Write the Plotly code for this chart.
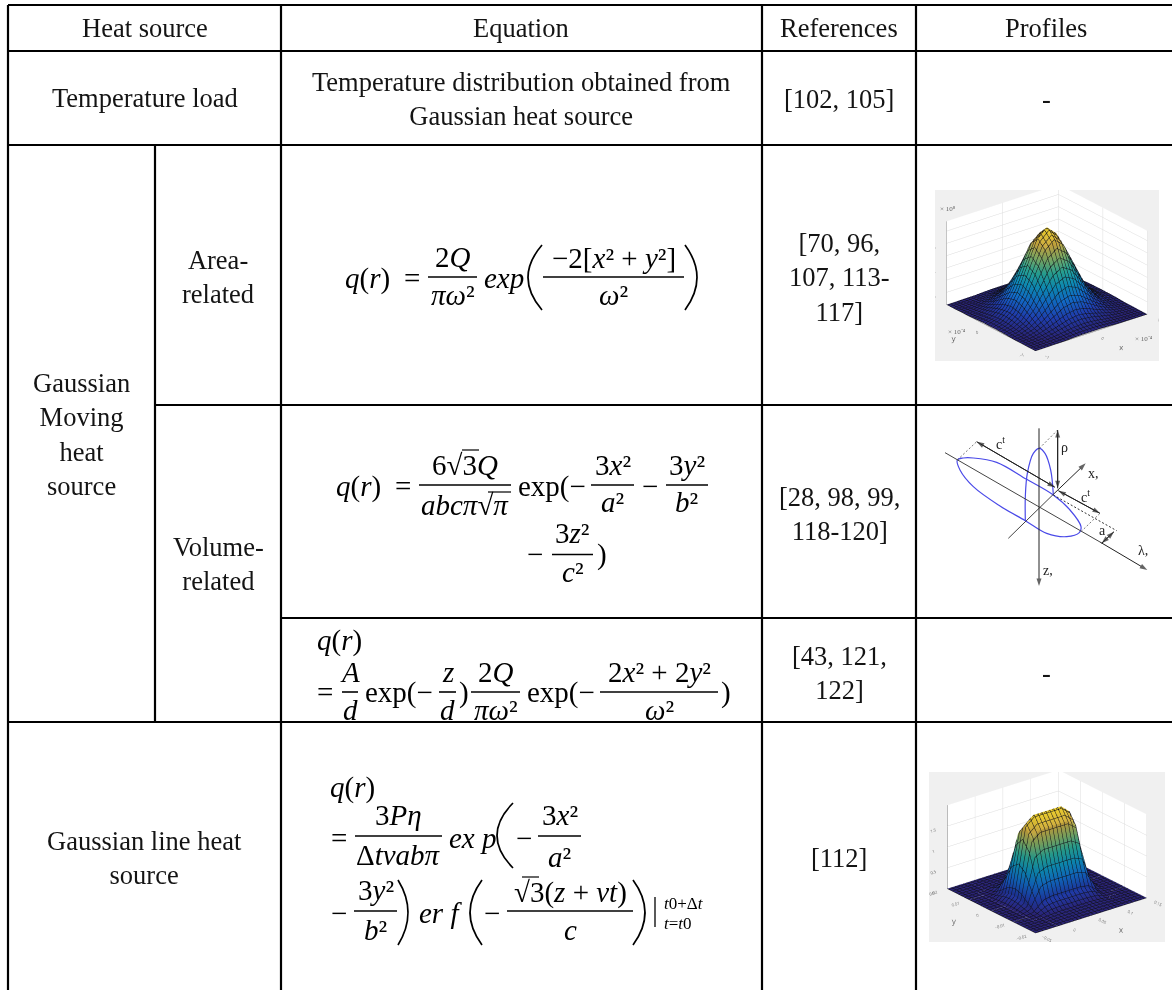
import plotly.graph_objects as go

W, H = 1172, 990
BODY = "Liberation Serif"
MATH = "Liberation Serif"

# table grid
col_lines = [8, 155, 281, 762, 916]
row_lines = [5, 51, 145, 405, 618, 722]

headers = ["Heat source", "Equation", "References", "Profiles"]
refs = ["[102, 105]", "[70, 96,<br>107, 113-<br>117]", "[28, 98, 99,<br>118-120]", "[43, 121,<br>122]", "[112]"]

# area related profile
area_x = [-1, -0.833, -0.667, -0.5, -0.333, -0.167, 0, 0.167, 0.333, 0.5, 0.667, 0.833, 1]
area_y = [-1, -0.833, -0.667, -0.5, -0.333, -0.167, 0, 0.167, 0.333, 0.5, 0.667, 0.833, 1]
area_z = [
    [0.00, 0.00, 0.01, 0.01, 0.03, 0.04, 0.04, 0.04, 0.03, 0.01, 0.01, 0.00, 0.00],
    [0.00, 0.01, 0.02, 0.05, 0.10, 0.15, 0.17, 0.15, 0.10, 0.05, 0.02, 0.01, 0.00],
    [0.01, 0.02, 0.07, 0.17, 0.30, 0.43, 0.49, 0.43, 0.30, 0.17, 0.07, 0.02, 0.01],
    [0.01, 0.05, 0.17, 0.39, 0.70, 1.01, 1.14, 1.01, 0.70, 0.39, 0.17, 0.05, 0.01],
    [0.03, 0.10, 0.30, 0.70, 1.28, 1.84, 2.08, 1.84, 1.28, 0.70, 0.30, 0.10, 0.03],
    [0.04, 0.15, 0.43, 1.01, 1.84, 2.65, 2.98, 2.65, 1.84, 1.01, 0.43, 0.15, 0.04],
    [0.04, 0.17, 0.49, 1.14, 2.08, 2.98, 3.35, 2.98, 2.08, 1.14, 0.49, 0.17, 0.04],
    [0.04, 0.15, 0.43, 1.01, 1.84, 2.65, 2.98, 2.65, 1.84, 1.01, 0.43, 0.15, 0.04],
    [0.03, 0.10, 0.30, 0.70, 1.28, 1.84, 2.08, 1.84, 1.28, 0.70, 0.30, 0.10, 0.03],
    [0.01, 0.05, 0.17, 0.39, 0.70, 1.01, 1.14, 1.01, 0.70, 0.39, 0.17, 0.05, 0.01],
    [0.01, 0.02, 0.07, 0.17, 0.30, 0.43, 0.49, 0.43, 0.30, 0.17, 0.07, 0.02, 0.01],
    [0.00, 0.01, 0.02, 0.05, 0.10, 0.15, 0.17, 0.15, 0.10, 0.05, 0.02, 0.01, 0.00],
    [0.00, 0.00, 0.01, 0.01, 0.03, 0.04, 0.04, 0.04, 0.03, 0.01, 0.01, 0.00, 0.00],
]

# line source profile
line_x = [-0.05, -0.025, -0.01, 0, 0.01, 0.025, 0.05, 0.075, 0.09, 0.1, 0.11, 0.125, 0.15]
line_y = [-0.02, -0.0125, -0.009, -0.006, -0.003, 0, 0.003, 0.006, 0.009, 0.0125, 0.02]
line_z = [
    [0, 0, 0.00, 0.00, 0.00, 0.00, 0.00, 0.00, 0.00, 0.00, 0.00, 0, 0],
    [0, 0, 0.00, 0.02, 0.03, 0.04, 0.04, 0.04, 0.03, 0.02, 0.00, 0, 0],
    [0, 0, 0.02, 0.12, 0.21, 0.24, 0.24, 0.24, 0.21, 0.12, 0.02, 0, 0],
    [0, 0, 0.09, 0.45, 0.81, 0.90, 0.90, 0.90, 0.81, 0.45, 0.09, 0, 0],
    [0, 0, 0.17, 0.85, 1.53, 1.70, 1.70, 1.70, 1.53, 0.85, 0.17, 0, 0],
    [0, 0, 0.20, 1.00, 1.80, 1.98, 1.98, 1.98, 1.80, 1.00, 0.20, 0, 0],
    [0, 0, 0.17, 0.85, 1.53, 1.70, 1.70, 1.70, 1.53, 0.85, 0.17, 0, 0],
    [0, 0, 0.09, 0.45, 0.81, 0.90, 0.90, 0.90, 0.81, 0.45, 0.09, 0, 0],
    [0, 0, 0.02, 0.12, 0.21, 0.24, 0.24, 0.24, 0.21, 0.12, 0.02, 0, 0],
    [0, 0, 0.00, 0.02, 0.03, 0.04, 0.04, 0.04, 0.03, 0.02, 0.00, 0, 0],
    [0, 0, 0.00, 0.00, 0.00, 0.00, 0.00, 0.00, 0.00, 0.00, 0.00, 0, 0],
]

parula = [[0, "#2a2375"], [0.13, "#1f3fb0"], [0.28, "#1270d0"], [0.42, "#0e97c4"], [0.56, "#2ab0a0"],
          [0.7, "#85b66c"], [0.84, "#d2b044"], [1, "#f5d62a"]]

# double ellipsoid sketch, in sketch units
flat_x = [112, 130, 160, 230, 320, 400, 450, 483, 478, 440, 380, 316, 240, 160, 120, 112]
flat_y = [180, 174, 174, 187, 238, 285, 330, 380, 398, 410, 400, 362, 318, 260, 210, 180]
upright_x = [316, 316, 322, 340, 358, 375, 392, 400]
upright_y = [362, 290, 220, 160, 145, 160, 210, 285]
thin_lines = [((75, 158), (540, 426)), ((265, 415), (400, 283))]
dashed_lines = [((112, 180), (170, 125)), ((358, 145), (413, 90)), ((483, 395), (540, 340))]
dotted_x = [400, 590]
dotted_y = [285, 392]
single_arrows = [((357, 85), (357, 558)), ((400, 283), (497, 190)), ((540, 426), (682, 510))]
double_arrows = [((170, 125), (405, 262)), ((413, 90), (413, 265)), ((415, 272), (540, 340)), ((545, 430), (582, 395))]
sketch_labels = [(240, 130, "c<sup>t</sup>"), (434, 142, "ρ"), (520, 220, "x,"), (497, 288, "c<sup>t</sup>"),
                 (548, 392, "a"), (668, 450, "λ,"), (385, 512, "z,")]

shapes = []
notes = []


def rule(x0, y0, x1, y1, width=2.2, color="#000"):
    shapes.append(dict(type="line", xref="x", yref="y", x0=x0, y0=y0, x1=x1, y1=y1,
                       line=dict(color=color, width=width)))


def label(x, y, text, size=26.5, anchor="center", font=BODY, color="#141414"):
    notes.append(dict(x=x, y=y, xref="x", yref="y", text=text, showarrow=False, xanchor=anchor,
                      yanchor="middle", align="center", font=dict(family=font, size=size, color=color)))


def m(x, y, text, anchor="left", size=29):
    label(x, y, text, size=size, anchor=anchor, font=MATH, color="#000")


def frac(x0, x1, y, num, den, ynum, yden):
    rule(x0, y, x1, y, width=1.6)
    cx = (x0 + x1) / 2
    m(cx, ynum, num, "center")
    m(cx, yden, den, "center")


def paren(x0, x1, y0, y1, right=False):
    # tall bracket as a curve, x0 is the tip side for a left one
    tip, bulge = (x0, x1) if right else (x1, x0)
    ym = (y0 + y1) / 2
    ctrl = 2 * bulge - tip
    shapes.append(dict(type="path", xref="x", yref="y", line=dict(color="#000", width=1.7),
                       path=f"M {tip} {y0} Q {ctrl} {ym} {tip} {y1}"))


# table lines
rule(col_lines[0], row_lines[0], W, row_lines[0])
rule(col_lines[0], row_lines[1], W, row_lines[1])
rule(col_lines[0], row_lines[2], W, row_lines[2])
rule(col_lines[1], row_lines[3], W, row_lines[3])
rule(col_lines[2], row_lines[4], W, row_lines[4])
rule(col_lines[0], row_lines[5], W, row_lines[5])
rule(col_lines[0], row_lines[0], col_lines[0], H)
rule(col_lines[1], row_lines[2], col_lines[1], row_lines[5])
rule(col_lines[2], row_lines[0], col_lines[2], H)
rule(col_lines[3], row_lines[0], col_lines[3], H)
rule(col_lines[4], row_lines[0], col_lines[4], H)

# plain cells
label(144.5, 28, headers[0])
label(521, 28, headers[1])
label(839, 28, headers[2])
label(1046, 28, headers[3])
label(144.5, 98, "Temperature load")
label(521, 99, "Temperature distribution obtained from<br>Gaussian heat source")
label(218, 277, "Area-<br>related")
label(81, 434, "Gaussian<br>Moving<br>heat<br>source")
label(218, 564, "Volume-<br>related")
label(144.5, 858, "Gaussian line heat<br>source")
label(839, 99, refs[0])
label(839, 277, refs[1])
label(839, 514, refs[2])
label(839, 673, refs[3])
label(839, 858, refs[4])
label(1046, 99, "-")
label(1046, 673, "-")

# area related equation
m(343, 278, "<i>q</i>(<i>r</i>)")
m(402, 278, "=")
frac(428, 477, 277, "2<i>Q</i>", "<i>πω</i>²", 257, 295)
m(482, 278, "<i>exp</i>")
paren(528, 542, 245, 310)
frac(543, 684, 277, "−2[<i>x</i>² + <i>y</i>²]", "<i>ω</i>²", 258, 295)
paren(685, 697, 245, 310, right=True)

# volume related equation
m(334, 486, "<i>q</i>(<i>r</i>)")
m(393, 486, "=")
frac(419, 511, 485, "6√3<i>Q</i>", "<i>abcπ</i>√<i>π</i>", 465, 505)
rule(462, 450, 479, 450, width=1.2)
rule(488, 492, 511, 492, width=1.2)
m(516, 486, "exp(−")
frac(591, 634, 485, "3<i>x</i>²", "<i>a</i>²", 465, 502)
m(650, 486, "−", "center")
frac(666, 708, 485, "3<i>y</i>²", "<i>b</i>²", 465, 502)
m(535, 554, "−", "center")
frac(552, 593, 554.5, "3<i>z</i>²", "<i>c</i>²", 533, 572)
m(595, 554, ")")

# surface flux equation
m(315, 640, "<i>q</i>(<i>r</i>)")
m(315, 692, "=")
frac(342, 358, 692, "<i>A</i>", "<i>d</i>", 672, 710)
m(363, 692, "exp(−")
frac(439, 456, 692, "<i>z</i>", "<i>d</i>", 672, 710)
m(457, 692, ")")
frac(471, 520, 692, "2<i>Q</i>", "<i>πω</i>²", 672, 710)
m(525, 692, "exp(−")
frac(600, 718, 692, "2<i>x</i>² + 2<i>y</i>²", "<i>ω</i>²", 672, 710)
m(719, 692, ")")

# line source equation
m(328, 787, "<i>q</i>(<i>r</i>)")
m(329, 838, "=")
frac(355, 442, 836, "3<i>Pη</i>", "Δ<i>tvabπ</i>", 815, 855)
m(447, 838, "<i>ex p</i>")
paren(497, 513, 803, 868)
m(524, 838, "−", "center")
frac(538, 581, 836, "3<i>x</i>²", "<i>a</i>²", 815, 857)
m(329, 913, "−")
frac(354, 397, 911, "3<i>y</i>²", "<i>b</i>²", 890, 930)
paren(398, 408, 880, 945, right=True)
m(417, 913, "<i>er f</i>")
paren(470, 482, 880, 945)
m(492, 913, "−", "center")
frac(507, 633, 911, "√3(<i>z</i> + <i>vt</i>)", "<i>c</i>", 892, 930)
rule(522, 877, 539, 877, width=1.2)
paren(633, 645, 880, 945, right=True)
rule(655, 897, 655, 927, width=1.3)
m(662, 903, "<i>t</i>0+Δ<i>t</i>", size=17)
m(662, 923, "<i>t</i>=<i>t</i>0", size=17)

# exponent tags next to the matlab boxes
label(938, 209, "× 10⁸", size=7, anchor="left", color="#666")
label(946, 332, "× 10⁻⁴", size=7, anchor="left", color="#666")
label(1133, 339, "× 10⁻⁴", size=7, anchor="left", color="#666")

fig = go.Figure()


def surface_trace(x, y, z, scene, step_x, step_y, zmax):
    start_x, end_x = x[0], x[-1]
    start_y, end_y = y[0], y[-1]
    return go.Surface(x=x, y=y, z=z, scene=scene, colorscale=parula, cmin=0, cmax=zmax, showscale=False,
                      hoverinfo="skip", lighting=dict(ambient=0.85, diffuse=0.3, specular=0.05),
                      contours=dict(
                          x=dict(show=True, start=start_x, end=end_x, size=step_x, color="#101018", width=1),
                          y=dict(show=True, start=start_y, end=end_y, size=step_y, color="#101018", width=1)))


fig.add_trace(surface_trace(area_x, area_y, area_z, "scene", 0.06, 0.06, 3.35))
fig.add_trace(surface_trace(line_x, line_y, line_z, "scene2", 0.007, 0.0014, 2))


def sketch_line(xs, ys, **line):
    fig.add_trace(go.Scatter(x=xs, y=ys, xaxis="x2", yaxis="y2", mode="lines", hoverinfo="skip", line=line))


def sketch_arrow(a, b):
    # shaft with a head at the far point only
    fig.add_trace(go.Scatter(x=[a[0], b[0]], y=[a[1], b[1]], xaxis="x2", yaxis="y2", mode="lines+markers",
                             hoverinfo="skip", line=dict(color="#222", width=1),
                             marker=dict(symbol="arrow", size=[0, 8], angleref="previous", color="#222",
                                         line=dict(width=0))))


# the blue sketch
sketch_line(flat_x, flat_y, color="#4a4ae8", width=1.2, shape="spline")
sketch_line(upright_x, upright_y, color="#4a4ae8", width=1.2, shape="spline")
for (a, b) in thin_lines:
    sketch_line([a[0], b[0]], [a[1], b[1]], color="#444", width=1)
for (a, b) in dashed_lines:
    sketch_line([a[0], b[0]], [a[1], b[1]], color="#555", width=0.8, dash="2px,2px")
sketch_line(dotted_x, dotted_y, color="#333", width=1, dash="2px,2px")
for (a, b) in single_arrows:
    sketch_arrow(a, b)
for (a, b) in double_arrows:
    sketch_arrow(a, b)
    sketch_arrow(b, a)
for (x, y, t) in sketch_labels:
    notes.append(dict(x=x, y=y, xref="x2", yref="y2", text=t, showarrow=False,
                      font=dict(family=BODY, size=14, color="#222")))


def scene_style(px0, px1, py0, py1, xr, yr, zr, xt, yt, zt, shift):
    def axis(title, rng, ticks):
        return dict(title=dict(text=title, font=dict(size=8, color="#666")), range=rng, tickvals=ticks,
                    tickfont=dict(size=7, color="#666"), showbackground=True, backgroundcolor="#ffffff",
                    gridcolor="#dcdcdc", gridwidth=1, zeroline=False, showspikes=False,
                    linecolor="#777", showline=True)
    return dict(domain=dict(x=[px0 / W, px1 / W], y=[1 - py1 / H, 1 - py0 / H]),
                bgcolor="#f0f0f0", aspectmode="manual", aspectratio=dict(x=1.67, y=1.67, z=1.07),
                camera=dict(projection=dict(type="orthographic"), eye=dict(x=-1.0, y=-1.26, z=0.63),
                            center=dict(x=0, y=0, z=shift), up=dict(x=0, y=0, z=1)),
                xaxis=axis("x", xr, xt), yaxis=axis("y", yr, yt), zaxis=axis("", zr, zt))


fig.update_layout(
    width=W, height=H, margin=dict(l=0, r=0, t=0, b=0), paper_bgcolor="white", plot_bgcolor="white",
    showlegend=False, shapes=shapes, annotations=notes,
    xaxis=dict(range=[0, W], visible=False, domain=[0, 1], fixedrange=True),
    yaxis=dict(range=[H, 0], visible=False, domain=[0, 1], fixedrange=True),
    xaxis2=dict(range=[0, 750], visible=False, domain=[920 / W, 1170 / W], anchor="y2", fixedrange=True),
    yaxis2=dict(range=[630, 0], visible=False, domain=[1 - 610 / H, 1 - 400 / H], anchor="x2", fixedrange=True),
    scene=scene_style(935, 1159, 190, 361, [-1, 1], [-1, 1], [0, 3.4], [-1, 0, 1], [-1, 0, 1],
                      [0, 0.5, 1, 1.5, 2, 2.5, 3], -0.1),
    scene2=scene_style(929, 1165, 772, 942, [-0.05, 0.15], [-0.02, 0.02], [0, 2],
                       [-0.05, 0, 0.05, 0.1, 0.15], [-0.02, -0.01, 0, 0.01, 0.02], [0, 0.5, 1, 1.5], -0.07),
)

fig.write_html("out.html", config=dict(displayModeBar=False), post_script="document.body.style.margin='0';")
